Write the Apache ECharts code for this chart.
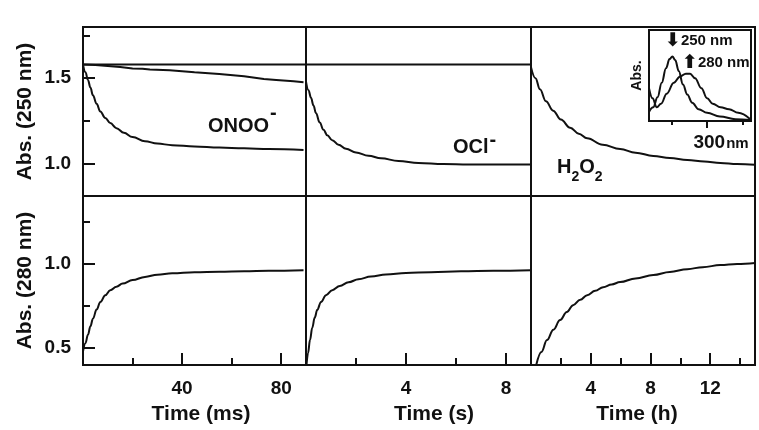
<!DOCTYPE html>
<html><head><meta charset="utf-8">
<script src="https://cdn.jsdelivr.net/npm/echarts@6/dist/echarts.min.js"></script>
<style>html,body{margin:0;padding:0;background:#fff}#c{width:759px;height:430px}</style>
</head><body><div id="c"></div>
<script>
// ---------- data ----------
// Panel 1 (ONOO-), time in ms
const onooTime250 = [0, 1, 2, 3, 4, 5.5, 7, 9, 11, 13.5, 16.5, 20, 25, 30, 36, 45, 55, 65, 75, 89];
const onooAbs250  = [1.58, 1.535, 1.49, 1.445, 1.40, 1.35, 1.305, 1.267, 1.237, 1.207, 1.18, 1.155, 1.131, 1.117, 1.108, 1.10, 1.094, 1.089, 1.085, 1.08];
const onooSlowTime = [0, 5, 10, 15, 20, 24, 27, 35, 45, 55, 65, 73, 78, 85, 89];
const onooSlowAbs  = [1.58, 1.577, 1.572, 1.566, 1.557, 1.556, 1.551, 1.546, 1.535, 1.525, 1.512, 1.495, 1.49, 1.482, 1.477];
const refTime1 = [0, 90];
const refAbs1  = [1.58, 1.58];
const onooTime280 = [0, 1, 2, 3, 4, 5.5, 7, 9, 11, 13.5, 16, 20, 25, 30, 36, 45, 55, 65, 75, 89];
const onooAbs280  = [0.48, 0.53, 0.58, 0.63, 0.675, 0.73, 0.775, 0.815, 0.845, 0.866, 0.884, 0.905, 0.924, 0.937, 0.945, 0.951, 0.955, 0.958, 0.961, 0.964];
// Panel 2 (OCl-), time in s
const oclTime250 = [0, 0.1, 0.2, 0.3, 0.4, 0.55, 0.7, 0.85, 1.05, 1.3, 1.6, 2.0, 2.5, 3.0, 3.7, 4.5, 5.5, 6.5, 7.5, 9];
const oclAbs250  = [1.48, 1.43, 1.385, 1.34, 1.295, 1.24, 1.198, 1.166, 1.137, 1.11, 1.087, 1.065, 1.046, 1.031, 1.015, 1.004, 0.998, 0.995, 0.994, 0.994];
const refTime2 = [0, 9];
const refAbs2  = [1.58, 1.58];
const oclTime280 = [0.02, 0.08, 0.16, 0.25, 0.35, 0.45, 0.6, 0.8, 1.05, 1.35, 1.7, 2.1, 2.6, 3.2, 4, 5, 6.2, 7.5, 9];
const oclAbs280  = [0.40, 0.47, 0.548, 0.622, 0.682, 0.728, 0.775, 0.815, 0.845, 0.87, 0.892, 0.91, 0.926, 0.938, 0.947, 0.952, 0.957, 0.961, 0.964];
// Panel 3 (H2O2), time in h
const h2o2Time250 = [0, 0.3, 0.6, 1.0, 1.48, 2.0, 2.62, 3.2, 3.76, 4.8, 5.97, 7, 8.19, 9.3, 10.47, 11.6, 12.68, 13.8, 15];
const h2o2Abs250  = [1.565, 1.5, 1.435, 1.365, 1.31, 1.258, 1.21, 1.175, 1.148, 1.11, 1.085, 1.064, 1.045, 1.032, 1.021, 1.012, 1.004, 0.998, 0.993];
const h2o2Time280 = [0.35, 0.7, 1.07, 1.5, 1.95, 2.4, 2.82, 3.3, 3.76, 4.3, 4.83, 5.4, 5.97, 7, 8.19, 9.3, 10.47, 11.5, 12.68, 13.8, 15];
const h2o2Abs280  = [0.40, 0.478, 0.548, 0.61, 0.667, 0.715, 0.756, 0.788, 0.815, 0.841, 0.863, 0.879, 0.893, 0.915, 0.935, 0.953, 0.970, 0.982, 0.994, 1.0, 1.006];
// Inset spectra
const insetNm250 = [218, 224, 230, 236, 242, 247, 251, 255, 260, 266, 272, 279, 288, 300, 318, 340, 361];
const insetAbs250 = [0.10, 0.15, 0.26, 0.42, 0.58, 0.68, 0.71, 0.67, 0.55, 0.40, 0.29, 0.20, 0.13, 0.09, 0.05, 0.02, 0.01];
const insetNm280 = [218, 223, 229, 235, 243, 253, 262, 270, 276, 283, 292, 300, 308, 319, 331, 344, 361];
const insetAbs280 = [0.36, 0.25, 0.15, 0.19, 0.30, 0.42, 0.49, 0.52, 0.52, 0.47, 0.36, 0.25, 0.19, 0.15, 0.13, 0.09, 0.02];
// Ticks
const msMajor = [40, 80], msMinor = [20, 60];
const sMajor = [4, 8], sMinor = [2, 6];
const hMajor = [4, 8, 12], hMinor = [2, 6, 10, 14];
const abs250Major = [1.0, 1.5], abs250Minor = [1.25, 1.75];
const abs280Major = [0.5, 1.0], abs280Minor = [0.75, 1.25];
const nmMajor = [300], nmMinor = [250, 350];

// ---------- chart ----------
const FONT = '"Liberation Sans", Arial, Helvetica, sans-serif';
const INK = '#111';
const chart = echarts.init(document.getElementById('c'), null, {renderer: 'canvas'});

const gridBox = (left, top, width, height, bg) => ({left, top, width, height, show: true,
  borderColor: INK, borderWidth: 2, backgroundColor: bg || 'transparent', containLabel: false});
const grids = [
  gridBox(83, 27, 223, 169), gridBox(306, 27, 225, 169), gridBox(531, 27, 224, 169),
  gridBox(83, 196, 223, 169), gridBox(306, 196, 225, 169), gridBox(531, 196, 224, 169),
  gridBox(649, 30, 102, 91, '#fff')
];

function axis(dim, grid, min, max, o) {
  o = o || {};
  const a = {type: 'value', gridIndex: grid, min, max, position: dim === 'x' ? 'bottom' : 'left',
    axisLine: {show: false}, splitLine: {show: false}, axisTick: {show: false}, axisLabel: {show: false}};
  if (o.ticks) a.axisTick = {show: true, inside: o.outside ? false : true, length: o.len, customValues: o.ticks,
    lineStyle: {color: INK, width: 2}};
  if (o.labels) a.axisLabel = {show: true, customValues: o.labels, formatter: o.fmt, color: INK,
    fontFamily: FONT, fontWeight: 'bold', fontSize: o.fs || 19, margin: o.margin, rich: o.rich};
  if (o.name) {
    a.name = o.name; a.nameLocation = 'middle'; a.nameGap = o.nameGap;
    a.nameTextStyle = {color: INK, fontFamily: FONT, fontWeight: 'bold', fontSize: o.nameSize || 21, padding: o.namePad || 0};
  }
  return a;
}
const f1 = v => v.toFixed(1);
const f0 = v => String(v);

const xAxes = [
  axis('x', 0, 0, 90), axis('x', 1, 0, 9), axis('x', 2, 0, 15),
  axis('x', 3, 0, 90, {ticks: msMajor, len: 12, labels: msMajor, fmt: f0, margin: 14, name: 'Time (ms)', nameGap: 39, namePad: [0, 0, 0, 13]}),
  axis('x', 4, 0, 9, {ticks: sMajor, len: 12, labels: sMajor, fmt: f0, margin: 14, name: 'Time (s)', nameGap: 39, namePad: [0, 0, 0, 31]}),
  axis('x', 5, 0, 15, {ticks: hMajor, len: 12, labels: hMajor, fmt: f0, margin: 14, name: 'Time (h)', nameGap: 39, namePad: [0, 12, 0, 0]}),
  axis('x', 6, 218, 362, {ticks: nmMajor, len: 7, outside: true, labels: nmMajor, margin: 12,
    fmt: v => '{s| }{a|' + v + '}{b|nm}',
    rich: {s: {width: 28, fontSize: 10}, a: {fontFamily: FONT, fontWeight: 'bold', fontSize: 19, color: INK},
           b: {fontFamily: FONT, fontWeight: 'bold', fontSize: 15, color: INK, padding: [3, 0, 0, 1]}}}),
  // minor tick axes
  axis('x', 3, 0, 90, {ticks: msMinor, len: 7}),
  axis('x', 4, 0, 9, {ticks: sMinor, len: 7}),
  axis('x', 5, 0, 15, {ticks: hMinor, len: 7}),
  axis('x', 6, 218, 362, {ticks: nmMinor, len: 4, outside: true})
];
const yAxes = [
  axis('y', 0, 0.81, 1.8, {ticks: abs250Major, len: 12, labels: abs250Major, fmt: f1, margin: 12, name: 'Abs. (250 nm)', nameGap: 47}),
  axis('y', 1, 0.81, 1.8), axis('y', 2, 0.81, 1.8),
  axis('y', 3, 0.4, 1.405, {ticks: abs280Major, len: 12, labels: abs280Major, fmt: f1, margin: 12, name: 'Abs. (280 nm)', nameGap: 47}),
  axis('y', 4, 0.4, 1.405), axis('y', 5, 0.4, 1.405),
  axis('y', 6, 0, 1, {name: 'Abs.', nameGap: 5, nameSize: 14}),
  axis('y', 0, 0.81, 1.8, {ticks: abs250Minor, len: 7}),
  axis('y', 3, 0.4, 1.405, {ticks: abs280Minor, len: 7})
];

const zip = (xs, ys) => xs.map((x, i) => [x, ys[i]]);
function line(idx, xs, ys, smooth) {
  return {type: 'line', xAxisIndex: idx, yAxisIndex: idx, data: zip(xs, ys), showSymbol: false,
    smooth: smooth === undefined ? 0.4 : smooth, smoothMonotone: 'x', clip: true, silent: true,
    lineStyle: {color: INK, width: 2}, z: idx === 6 ? 5 : 3};
}
const series = [
  line(0, refTime1, refAbs1, false),
  line(0, onooSlowTime, onooSlowAbs, false),
  line(0, onooTime250, onooAbs250),
  line(1, refTime2, refAbs2, false),
  line(1, oclTime250, oclAbs250),
  line(2, h2o2Time250, h2o2Abs250),
  line(3, onooTime280, onooAbs280),
  line(4, oclTime280, oclAbs280),
  line(5, h2o2Time280, h2o2Abs280),
  line(6, insetNm250, insetAbs250),
  line(6, insetNm280, insetAbs280)
];

const T = (x, y, text, rich) => ({type: 'text', x, y, z: 10,
  style: {text, rich, align: 'left', verticalAlign: 'middle', fill: INK, fontFamily: FONT, fontWeight: 'bold'}});
const bold = (fs, extra) => Object.assign({fontFamily: FONT, fontWeight: 'bold', fontSize: fs, fill: INK, color: INK}, extra || {});
const ARROWFONT = '"DejaVu Sans", sans-serif';

chart.setOption({
  animation: false,
  backgroundColor: '#fff',
  grid: grids,
  xAxis: xAxes,
  yAxis: yAxes,
  series,
  graphic: [
    T(208, 126, '{a|ONOO}{s|-}', {a: bold(20), s: bold(20, {padding: [0, 0, 25, 1]})}),
    T(453, 147, '{a|OCl}{s|-}', {a: bold(20), s: bold(20, {padding: [0, 0, 13, 1]})}),
    T(557, 167, '{a|H}{b|2}{a|O}{b|2}', {a: bold(20), b: bold(14, {padding: [20, 0, 0, 0]})}),
    T(665, 41, '{r|⬇}{t|250 nm}', {r: bold(19, {fontFamily: ARROWFONT, padding: [0, 0, 0, 0]}), t: bold(15)}),
    T(682, 63, '{r|⬆}{t|280 nm}', {r: bold(19, {fontFamily: ARROWFONT, padding: [0, 0, 0, 0]}), t: bold(15)})
  ]
});
</script></body></html>
